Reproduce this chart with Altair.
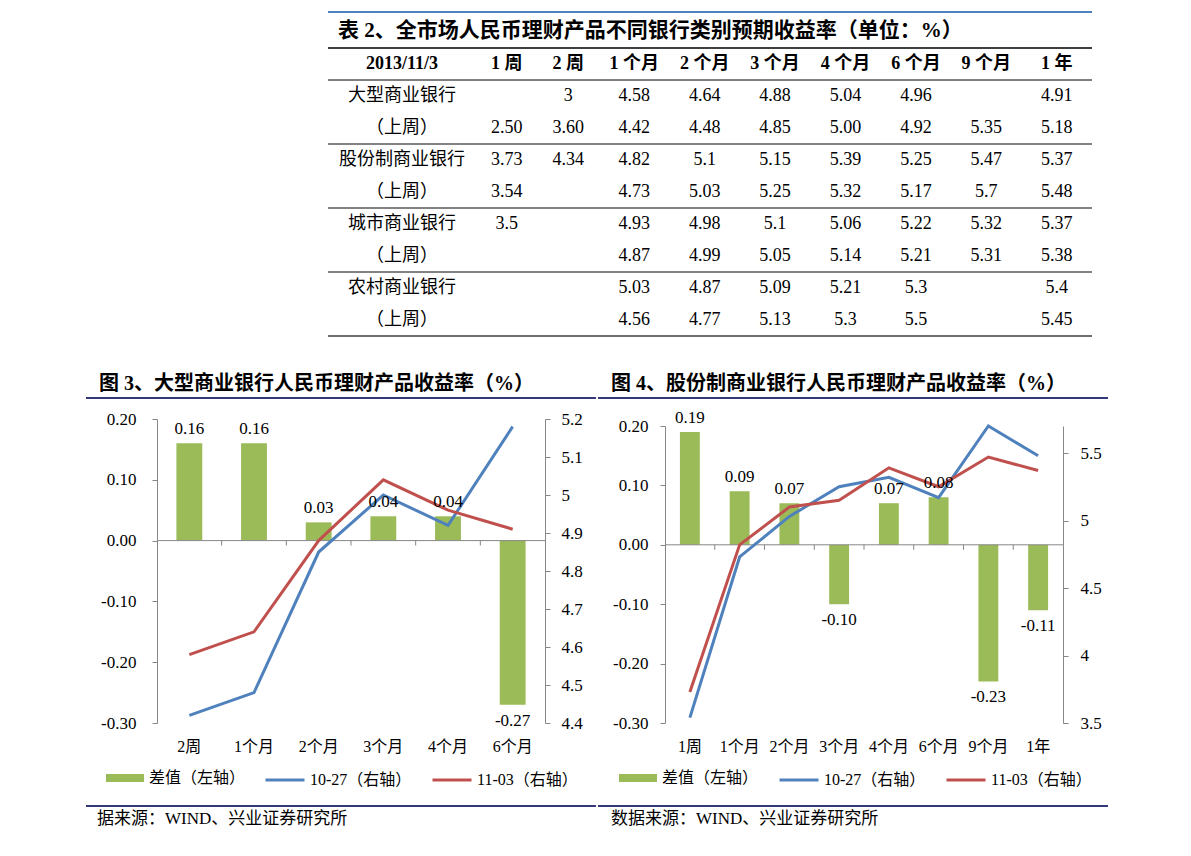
import altair as alt
import pandas as pd

FONT = "'Liberation Serif', 'Noto Sans CJK SC', serif"
GREEN = "#9BBB59"
BLUE = "#4F81BD"
RED = "#C0504D"
GRAY = "#878787"
NAVY = "#35387A"

# ---------------- Table 2 data ----------------
table_title = "表 2、全市场人民币理财产品不同银行类别预期收益率（单位：%）"
table_corner = "2013/11/3"
week_cols = ["1 周", "2 周"]
month_cols = ["1 个月", "2 个月", "3 个月", "4 个月", "6 个月", "9 个月", "1 年"]
row_labels = ["大型商业银行", "（上周）", "股份制商业银行", "（上周）",
              "城市商业银行", "（上周）", "农村商业银行", "（上周）"]
large_now = ["", "3", "4.58", "4.64", "4.88", "5.04", "4.96", "", "4.91"]
large_prev = ["2.50", "3.60", "4.42", "4.48", "4.85", "5.00", "4.92", "5.35", "5.18"]
joint_now = ["3.73", "4.34", "4.82", "5.1", "5.15", "5.39", "5.25", "5.47", "5.37"]
joint_prev = ["3.54", "", "4.73", "5.03", "5.25", "5.32", "5.17", "5.7", "5.48"]
city_now = ["3.5", "", "4.93", "4.98", "5.1", "5.06", "5.22", "5.32", "5.37"]
city_prev = ["", "", "4.87", "4.99", "5.05", "5.14", "5.21", "5.31", "5.38"]
rural_now = ["", "", "5.03", "4.87", "5.09", "5.21", "5.3", "", "5.4"]
rural_prev = ["", "", "4.56", "4.77", "5.13", "5.3", "5.5", "", "5.45"]
table_rows = [large_now, large_prev, joint_now, joint_prev,
              city_now, city_prev, rural_now, rural_prev]

# ---------------- Figure 3 data ----------------
fig3_title = "图 3、大型商业银行人民币理财产品收益率（%）"
fig3_source = "据来源：WIND、兴业证券研究所"
fig3_cats = ["2周", "1个月", "2个月", "3个月", "4个月", "6个月"]
fig3_diff = [0.16, 0.16, 0.03, 0.04, 0.04, -0.27]
fig3_1027 = [4.42, 4.48, 4.85, 5.00, 4.92, 5.18]
fig3_1103 = [4.58, 4.64, 4.88, 5.04, 4.96, 4.91]
fig3_right_domain = [4.4, 5.2]
fig3_right_ticks = [4.4, 4.5, 4.6, 4.7, 4.8, 4.9, 5.0, 5.1, 5.2]

# ---------------- Figure 4 data ----------------
fig4_title = "图 4、股份制商业银行人民币理财产品收益率（%）"
fig4_source = "数据来源：WIND、兴业证券研究所"
fig4_cats = ["1周", "1个月", "2个月", "3个月", "4个月", "6个月", "9个月", "1年"]
fig4_diff = [0.19, 0.09, 0.07, -0.10, 0.07, 0.08, -0.23, -0.11]
fig4_1027 = [3.54, 4.73, 5.03, 5.25, 5.32, 5.17, 5.70, 5.48]
fig4_1103 = [3.73, 4.82, 5.10, 5.15, 5.39, 5.25, 5.47, 5.37]
fig4_right_domain = [3.5, 5.7]
fig4_right_ticks = [3.5, 4.0, 4.5, 5.0, 5.5]

left_domain = [-0.3, 0.2]
left_ticks = [-0.3, -0.2, -0.1, 0.0, 0.1, 0.2]

DIFF_NAME = "差值（左轴）"
PREV_NAME = "10-27（右轴）"
CURR_NAME = "11-03（右轴）"

one = pd.DataFrame({"k": [0]})

# ---------------- table ----------------
ROW_IDS = ["h"] + ["r%d" % i for i in range(1, 9)]
ROW_H = 32
TABLE_H = ROW_H * len(ROW_IDS)


def table_section(cols, header, rows, width, title=None):
    xs = alt.Scale(domain=cols, paddingInner=0, paddingOuter=0)
    ys = alt.Scale(domain=ROW_IDS, paddingInner=0, paddingOuter=0)
    x = alt.X("col:N", scale=xs, axis=None)
    y = alt.Y("row:N", scale=ys, axis=None)

    def yb(bp):
        return alt.Y("row:N", scale=ys, axis=None, bandPosition=bp)

    hdr = pd.DataFrame({"row": ["h"] * len(cols), "col": cols, "txt": header})
    body = pd.DataFrame([{"row": ROW_IDS[i + 1], "col": c, "txt": t}
                         for i, r in enumerate(rows) for c, t in zip(cols, r)])
    layers = [
        alt.Chart(hdr).mark_text(font=FONT, fontSize=18, fontWeight="bold", color="black")
        .encode(x=x, y=y, text="txt:N"),
        alt.Chart(body).mark_text(font=FONT, fontSize=18, color="black")
        .encode(x=x, y=y, text="txt:N"),
        alt.Chart(pd.DataFrame({"row": ["h"]})).mark_rule(color="#000000", strokeWidth=1.5)
        .encode(y=yb(0)),
        alt.Chart(pd.DataFrame({"row": ["r1"]})).mark_rule(color="#000000", strokeWidth=1)
        .encode(y=yb(0)),
        alt.Chart(pd.DataFrame({"row": ["r3", "r5", "r7"]})).mark_rule(color="#595959", strokeWidth=1.5)
        .encode(y=yb(0)),
        alt.Chart(pd.DataFrame({"row": ["r8"]})).mark_rule(color="#404040", strokeWidth=1.5)
        .encode(y=yb(1)),
        alt.Chart(one).mark_rule(color=BLUE, strokeWidth=2)
        .encode(x=alt.value(0), x2=alt.value(width), y=alt.value(-36)),
    ]
    if title:
        layers.append(
            alt.Chart(one).mark_text(font=FONT, fontSize=21, fontWeight="bold", color="black",
                                     align="left", baseline="middle")
            .encode(x=alt.value(10), y=alt.value(-17), text=alt.value(title)))
    return alt.layer(*layers).properties(width=width, height=TABLE_H)


spacer = alt.Chart(one).mark_text(text="").encode(x=alt.value(0), y=alt.value(0)) \
    .properties(width=171, height=TABLE_H)
lab_sec = table_section(["label"], [table_corner], [[l] for l in row_labels], 148, title=table_title)
wk_sec = table_section(week_cols, week_cols, [r[:2] for r in table_rows], 123)
mo_sec = table_section(month_cols, month_cols, [r[2:] for r in table_rows], 493)
table_row = alt.hconcat(spacer, lab_sec, wk_sec, mo_sec, spacing=0, bounds="flush")

# ---------------- panels ----------------
NEG_EXPR = "datum.value < 0 ? '-' + format(-datum.value, '.2f') : format(datum.value, '.2f')"


def panel(cats, diff, prev, curr, rdom, rticks, title, source, g):
    n = len(cats)
    bdf = pd.DataFrame({"cat": cats, "diff": diff, "series": [DIFF_NAME] * n})
    bdf["lab"] = ["%.2f" % v for v in diff]
    ldf = pd.DataFrame({"cat": cats + cats, "val": prev + curr,
                        "series": [PREV_NAME] * n + [CURR_NAME] * n})
    tdf = pd.DataFrame({"cat": cats[1:]})
    yrange = [g["h"], g["ytop"]]

    xsc = alt.Scale(domain=cats, paddingInner=0, paddingOuter=0)
    xaxis = alt.Axis(title=None, domain=False, ticks=False, labelAngle=0, labelPadding=15,
                     labelFont=FONT, labelFontSize=16, labelColor="black")
    x = alt.X("cat:N", scale=xsc, axis=xaxis)
    ysc = alt.Scale(domain=left_domain, range=yrange, nice=False, zero=False)
    yaxis = alt.Axis(title=None, orient="left", values=left_ticks, labelExpr=NEG_EXPR, grid=False,
                     domainColor=GRAY, tickColor=GRAY, tickSize=5, labelPadding=g["lpadL"],
                     labelFont=FONT, labelFontSize=17, labelColor="black")

    bars = alt.Chart(bdf).mark_bar(width=alt.RelativeBandSize(0.4)).encode(
        x=x,
        y=alt.Y("diff:Q", scale=ysc, axis=yaxis),
        y2=alt.datum(0),
        fill=alt.Fill("series:N", scale=alt.Scale(domain=[DIFF_NAME], range=[GREEN]),
                      legend=alt.Legend(orient="none", legendX=g["legFillX"], legendY=g["legY"],
                                        title=None, padding=0,
                                        symbolType="M-1,-0.21L1,-0.21L1,0.21L-1,0.21Z",
                                        symbolSize=1444, symbolStrokeWidth=0,
                                        labelFont=FONT, labelFontSize=16, labelColor="black",
                                        labelOffset=5)),
    )
    zero = alt.Chart(one).mark_rule(color=GRAY, strokeWidth=1).encode(y=alt.datum(0))
    ticks = alt.Chart(tdf).mark_rule(color=GRAY, strokeWidth=1, y2Offset=5).encode(
        x=alt.X("cat:N", scale=xsc, axis=xaxis, bandPosition=0),
        y=alt.datum(0), y2=alt.datum(0))
    deco = [
        alt.Chart(one).mark_text(font=FONT, fontSize=20, fontWeight="bold", color="black",
                                 align="left", baseline="middle")
        .encode(x=alt.value(g["titleX"]), y=alt.value(g["titleY"]), text=alt.value(title)),
        alt.Chart(one).mark_rule(color=NAVY, strokeWidth=2)
        .encode(x=alt.value(g["navX1"]), x2=alt.value(g["navX2"]), y=alt.value(g["navTop"])),
        alt.Chart(one).mark_rule(color=NAVY, strokeWidth=2)
        .encode(x=alt.value(g["navX1"]), x2=alt.value(g["navX2"]), y=alt.value(g["navBot"])),
        alt.Chart(one).mark_text(font=FONT, fontSize=17, color="black",
                                 align="left", baseline="middle")
        .encode(x=alt.value(g["srcX"]), y=alt.value(g["srcY"]), text=alt.value(source)),
    ]
    left_layer = alt.layer(bars, zero, ticks, *deco)

    lines = alt.Chart(ldf).mark_line(strokeWidth=3).encode(
        x=x,
        y=alt.Y("val:Q", scale=alt.Scale(domain=rdom, range=yrange, nice=False, zero=False),
                axis=alt.Axis(title=None, orient="right", values=rticks, format=".2~f", grid=False,
                              domainColor=GRAY, tickColor=GRAY, tickSize=5, labelPadding=g["lpadR"],
                              labelFont=FONT, labelFontSize=17, labelColor="black")),
        stroke=alt.Stroke("series:N", scale=alt.Scale(domain=[PREV_NAME, CURR_NAME], range=[BLUE, RED]),
                          legend=alt.Legend(orient="none", legendX=g["legStrokeX"], legendY=g["legY"],
                                            title=None, padding=0, direction="horizontal",
                                            symbolType="stroke", symbolSize=1521, symbolStrokeWidth=3,
                                            labelFont=FONT, labelFontSize=16, labelColor="black",
                                            labelOffset=4, columnPadding=14)),
    )

    ylab = alt.Y("diff:Q", scale=ysc, axis=None)
    lab_pos = alt.Chart(bdf).transform_filter("datum.diff >= 0").mark_text(
        font=FONT, fontSize=17, color="black", baseline="middle", dy=-14).encode(x=x, y=ylab, text="lab:N")
    lab_neg = alt.Chart(bdf).transform_filter("datum.diff < 0").mark_text(
        font=FONT, fontSize=17, color="black", baseline="middle", dy=16).encode(x=x, y=ylab, text="lab:N")
    label_layer = alt.layer(lab_pos, lab_neg)

    return alt.layer(left_layer, lines, label_layer).resolve_scale(y="independent") \
        .properties(width=g["w"], height=g["h"])


g3 = dict(w=388, h=304, ytop=0, titleX=-58, titleY=-35, navX1=-71, navX2=439, navTop=-21, navBot=387,
          srcX=-60, srcY=400, legY=340, legFillX=-51, legStrokeX=107, lpadL=16, lpadR=11)
g4 = dict(w=398, h=304, ytop=7, titleX=-54, titleY=-35, navX1=-67, navX2=443, navTop=-21, navBot=387,
          srcX=-54, srcY=400, legY=340, legFillX=-46, legStrokeX=113, lpadL=12, lpadR=12)

p3 = panel(fig3_cats, fig3_diff, fig3_1027, fig3_1103, fig3_right_domain, fig3_right_ticks,
           fig3_title, fig3_source, g3)
p4 = panel(fig4_cats, fig4_diff, fig4_1027, fig4_1103, fig4_right_domain, fig4_right_ticks,
           fig4_title, fig4_source, g4)
charts_row = alt.hconcat(p3, p4, spacing=0).resolve_scale(fill="independent", stroke="independent")

chart = alt.vconcat(table_row, charts_row, spacing=37).resolve_scale(
    fill="independent", stroke="independent"
).properties(
    padding={"left": 77, "top": 3, "right": 5, "bottom": 5},
    background="white",
).configure_view(strokeWidth=0)

chart.save("out.html", embed_options={"renderer": "svg", "actions": False})
